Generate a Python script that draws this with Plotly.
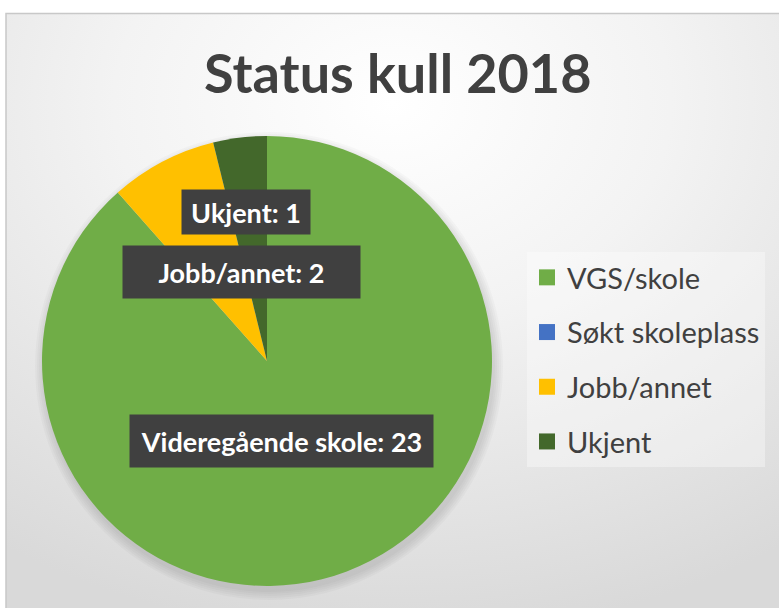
import base64
import plotly.graph_objects as go

W, H = 779, 608

title_text = "Status kull 2018"
categories = ["VGS/skole", "Søkt skoleplass", "Jobb/annet", "Ukjent"]
values = [23, 0, 2, 1]
colors = ["#70AD47", "#4472C4", "#FFC000", "#43682B"]
label_names = ["Videregående skole", "Søkt skoleplass", "Jobb/annet", "Ukjent"]
# data label boxes (pixel centre x, centre y, width, height) for the shown labels
label_boxes = {0: (281.5, 441, 303, 52), 2: (241.5, 272, 237, 52), 3: (246, 212, 128, 44)}

FONT = "Lato"

def px(x):
    return x / W

def py(y):
    return 1 - y / H

fig = go.Figure()

fig.add_trace(go.Pie(
    labels=categories,
    values=values,
    sort=False,
    direction="clockwise",
    rotation=0,
    marker=dict(colors=colors, line=dict(width=0)),
    textinfo="none",
    hoverinfo="label+value",
    showlegend=False,
    domain=dict(x=[px(42), px(492)], y=[py(586), py(136)]),
))

# legend entries
for c, col in zip(categories, colors):
    fig.add_trace(go.Scatter(
        x=[None], y=[None], mode="markers", name=c, legendgroup=c,
        marker=dict(symbol="square", size=18, color=col),
    ))

# gradient background
svg = f'''<svg xmlns="http://www.w3.org/2000/svg" width="{W}" height="{H}" preserveAspectRatio="none">
<defs><radialGradient id="g" cx="0.5" cy="0.15" r="0.9" gradientUnits="objectBoundingBox">
<stop offset="0" stop-color="#ffffff"/><stop offset="0.4" stop-color="#f3f3f3"/><stop offset="1" stop-color="#d9d9d9"/>
</radialGradient></defs><rect width="100%" height="100%" fill="url(#g)"/></svg>'''
src = "data:image/svg+xml;base64," + base64.b64encode(svg.encode()).decode()

images = [dict(source=src, xref="paper", yref="paper", x=px(6), y=py(14),
               sizex=1 - px(6), sizey=py(14), sizing="stretch", layer="below",
               xanchor="left", yanchor="top")]

shapes = []
# soft shadow behind pie
cx, cy, r = 267, 361, 225
for i in range(5):
    d = 1 + i * 2
    shapes.append(dict(type="circle", xref="paper", yref="paper",
                       x0=px(cx - r - d + 2), x1=px(cx + r + d + 2),
                       y0=py(cy + r + d + 5), y1=py(cy - r - d + 5),
                       fillcolor="rgba(0,0,0,0.025)", line=dict(width=0), layer="below"))
# border
shapes.append(dict(type="rect", xref="paper", yref="paper",
                   x0=px(6), x1=1.02, y0=-0.02, y1=py(13.5),
                   line=dict(color="#c8c8c8", width=1.5), fillcolor="rgba(0,0,0,0)", layer="above"))

annotations = [dict(text=f"<b>{title_text}</b>", x=px(398), y=py(73), xref="paper", yref="paper",
                    showarrow=False, font=dict(family=FONT, size=54, color="#404040"),
                    xanchor="center", yanchor="middle")]
for i, (x, y, w, h) in label_boxes.items():
    annotations.append(dict(
        text=f"<b>{label_names[i]}: {values[i]}</b>", x=px(x), y=py(y), xref="paper", yref="paper",
        showarrow=False, font=dict(family=FONT, size=27, color="#ffffff"),
        bgcolor="#404040", borderpad=0, width=w, height=h, align="center", valign="middle",
        xanchor="center", yanchor="middle"))

fig.update_layout(
    width=W, height=H,
    margin=dict(l=0, r=0, t=0, b=0),
    paper_bgcolor="#ffffff", plot_bgcolor="rgba(0,0,0,0)",
    xaxis=dict(visible=False), yaxis=dict(visible=False),
    images=images, shapes=shapes, annotations=annotations,
    legend=dict(x=px(527), y=py(252), xanchor="left", yanchor="top",
                bgcolor="rgba(255,255,255,0.35)", font=dict(family=FONT, size=29, color="#404040"),
                tracegroupgap=14, itemclick=False, itemdoubleclick=False),
)

fig.write_html("out.html", config={"displayModeBar": False},
               post_script="document.body.style.margin='0';")
